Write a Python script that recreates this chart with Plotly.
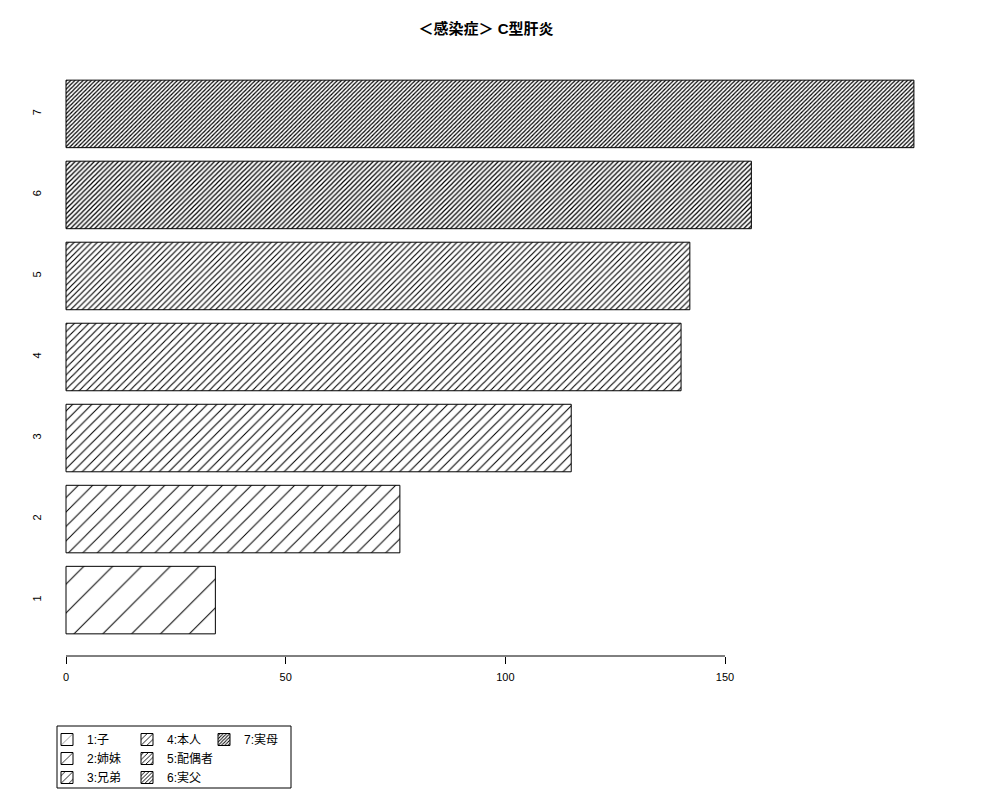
import plotly.graph_objects as go

# ---- data ----
categories = ["1", "2", "3", "4", "5", "6", "7"]
positions = [1, 2, 3, 4, 5, 6, 7]
legend_labels = ["1:子", "2:姉妹", "3:兄弟", "4:本人", "5:配偶者", "6:実父", "7:実母"]
values = [34, 76, 115, 140, 142, 156, 193]
x_ticks = [0, 50, 100, 150]
title_text = "<b>＜感染症＞ C型肝炎</b>"

# ---- style ----
pattern_sizes = [20.4, 10.2, 6.8, 5.1, 4.1, 3.4, 2.9]
line_weights = [1.0, 1.0, 1.05, 1.1, 1.15, 1.2, 1.2]
legend_ids = ["legend", "legend", "legend", "legend2", "legend2", "legend2", "legend3"]
FONT = "Liberation Sans, Arial, Noto Sans CJK JP, sans-serif"

OFF = 8  # page body margin offset
W, H = 1000, 800
ML = 44 - OFF
MT = 58 - OFF
MB = H - (656 - OFF)
MR = W - (948 - OFF)
PW, PH = W - ML - MR, H - MT - MB

fig = go.Figure()
for i, cat in enumerate(categories):
    s = pattern_sizes[i]
    fig.add_trace(go.Bar(
        x=[values[i]], y=[positions[i]], orientation="h",
        width=1 / 1.2,
        name=legend_labels[i],
        legend=legend_ids[i],
        marker=dict(
            color="white",
            line=dict(color="black", width=1),
            pattern=dict(shape="/", size=s, solidity=min(line_weights[i] / s, 0.6),
                         fgcolor="black", bgcolor="white", fillmode="replace"),
        ),
        hoverinfo="x+name",
    ))

# x axis line spanning first..last tick (R style)
fig.add_shape(type="line", xref="x", yref="paper",
              x0=min(x_ticks), x1=max(x_ticks), y0=0, y1=0,
              line=dict(color="black", width=1))


def px_to_paper_x(px):
    return (px - OFF - ML) / PW


def px_to_paper_y(py):
    return (H - MB - (py - OFF)) / PH


# legend box
fig.add_shape(type="rect", xref="paper", yref="paper",
              x0=px_to_paper_x(57), x1=px_to_paper_x(291),
              y0=px_to_paper_y(788), y1=px_to_paper_y(726),
              line=dict(color="black", width=1), fillcolor="rgba(0,0,0,0)")

scale = (725 - 66) / 150.0
xr0 = -(66 - OFF - ML) / scale
xr1 = (W - MR - (66 - OFF)) / scale

leg_common = dict(xref="container", yref="container", yanchor="top", xanchor="left",
                  bgcolor="rgba(0,0,0,0)", borderwidth=0,
                  font=dict(family=FONT, size=12, color="black"),
                  itemwidth=30, tracegroupgap=0, orientation="v")
leg_top = 1 - 717 / H

fig.update_layout(
    width=W, height=H,
    margin=dict(l=ML, r=MR, t=MT, b=MB, autoexpand=False),
    paper_bgcolor="white", plot_bgcolor="white",
    font=dict(family=FONT, size=12, color="black"),
    title=dict(text=title_text, x=(486 - OFF) / W, xref="container", xanchor="center",
               y=1 - (29 - OFF) / H, yref="container", yanchor="middle",
               font=dict(family=FONT, size=15, color="black")),
    barmode="overlay",
    showlegend=True,
    legend=dict(x=39 / W, y=leg_top, **leg_common),
    legend2=dict(x=119 / W, y=leg_top, **leg_common),
    legend3=dict(x=196 / W, y=leg_top, **leg_common),
    xaxis=dict(range=[xr0, xr1], tickvals=x_ticks, ticktext=[str(v) for v in x_ticks],
               ticks="outside", ticklen=7, tickcolor="black", tickwidth=1,
               showline=False, showgrid=False, zeroline=False,
               ticklabelstandoff=4,
               tickfont=dict(family=FONT, size=11, color="black")),
    yaxis=dict(range=[0.31, 7.69], tickvals=positions, ticktext=categories,
               tickangle=-90, ticks="", showline=False, showgrid=False, zeroline=False,
               tickfont=dict(family=FONT, size=11, color="black")),
)

fig.write_html("out.html")
